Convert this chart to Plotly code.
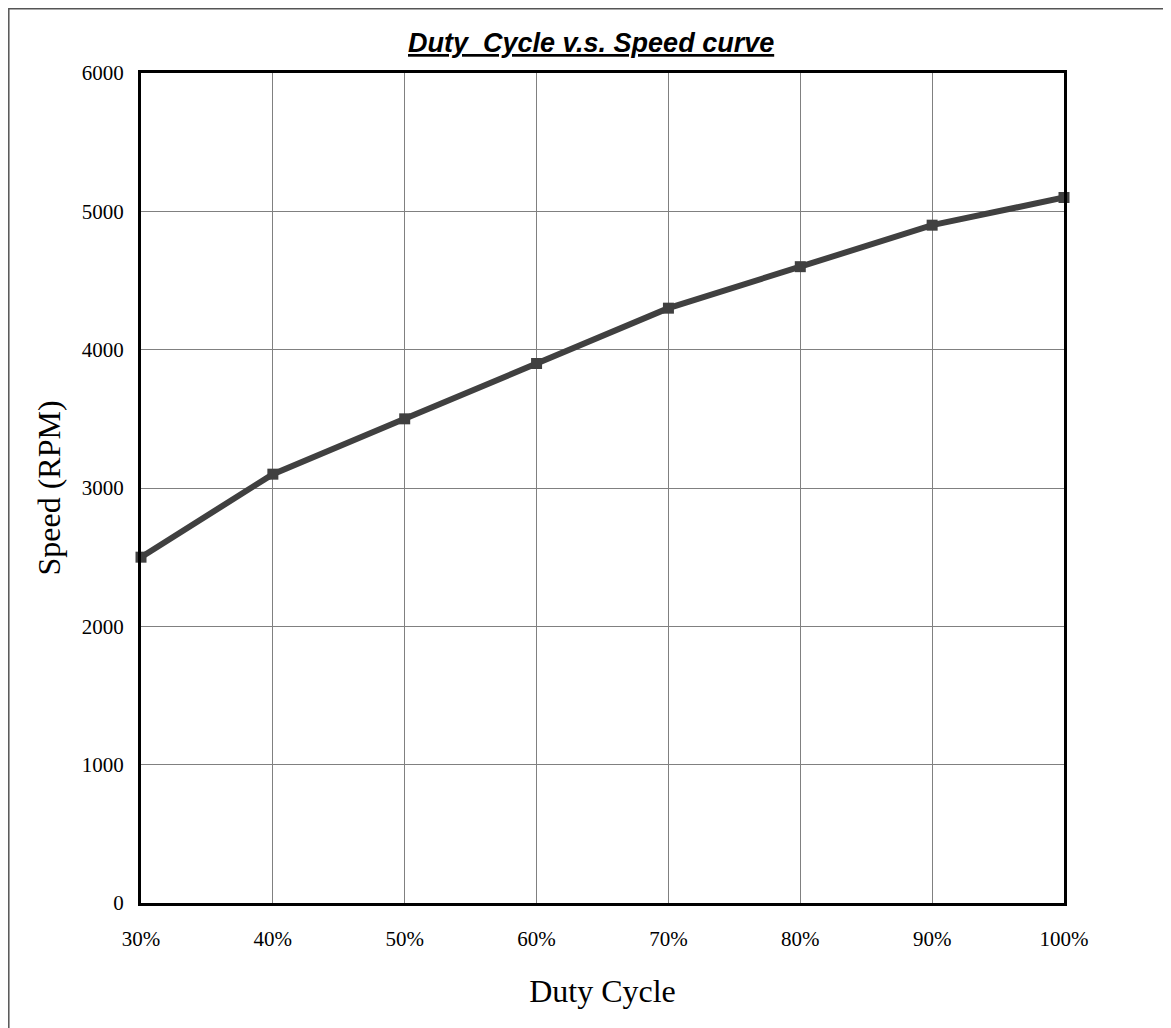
import plotly.graph_objects as go

duty_cycle = [30, 40, 50, 60, 70, 80, 90, 100]
speed_rpm = [2500, 3100, 3500, 3900, 4300, 4600, 4900, 5100]
x_tick_labels = ["30%", "40%", "50%", "60%", "70%", "80%", "90%", "100%"]
y_ticks = [0, 1000, 2000, 3000, 4000, 5000, 6000]

# page is offset by 8px (body margin), so figure is sized to fill the rest
OFF = 8
W, H = 1171 - OFF, 1028 - OFF
L, T = 141 - OFF, 73 - OFF
pw, ph = 923, 830
R, B = W - L - pw, H - T - ph

def px_x(p):
    return (p - OFF - L) / pw

def px_y(p):
    return (T + ph - (p - OFF)) / ph

fig = go.Figure()
fig.add_trace(go.Scatter(
    x=duty_cycle, y=speed_rpm, mode="lines+markers",
    line=dict(color="#404040", width=6),
    marker=dict(symbol="square", size=11, color="#404040"),
    showlegend=False, cliponaxis=False,
))

tick_font = dict(family="Liberation Serif, Times New Roman, serif", size=21, color="#000")
title_font = dict(family="Liberation Serif, Times New Roman, serif", size=32, color="#000")

fig.update_layout(
    width=W, height=H,
    margin=dict(l=L, r=R, t=T, b=B),
    paper_bgcolor="white", plot_bgcolor="white",
    xaxis=dict(
        range=[30, 100], tickmode="array", tickvals=duty_cycle, ticktext=x_tick_labels,
        showgrid=True, gridcolor="#808080", gridwidth=1,
        showline=True, linecolor="#000", linewidth=3, mirror=True,
        zeroline=False, ticks="", tickfont=tick_font, ticklabelstandoff=15,
        title=dict(text="Duty Cycle", font=title_font, standoff=30),
    ),
    yaxis=dict(
        range=[0, 6000], tickmode="array", tickvals=y_ticks,
        showgrid=True, gridcolor="#808080", gridwidth=1,
        showline=True, linecolor="#000", linewidth=3, mirror=True,
        zeroline=False, ticks="", tickfont=tick_font, ticklabelstandoff=10,
        title=dict(text="Speed (RPM)", font=title_font, standoff=12),
    ),
    annotations=[dict(
        text="<b><i><u>Duty&nbsp;&nbsp;Cycle v.s. Speed curve</u></i></b>",
        xref="paper", yref="paper", x=px_x(591), y=px_y(43),
        xanchor="center", yanchor="middle", showarrow=False,
        font=dict(family="Liberation Sans, Arial, sans-serif", size=27, color="#000"),
    )],
    shapes=[dict(
        type="rect", xref="paper", yref="paper",
        x0=px_x(OFF + 0.8), x1=px_x(1190), y0=px_y(1060), y1=px_y(OFF + 0.8),
        line=dict(color="#555", width=1.5), layer="below",
    )],
)

fig.write_html("out.html")
